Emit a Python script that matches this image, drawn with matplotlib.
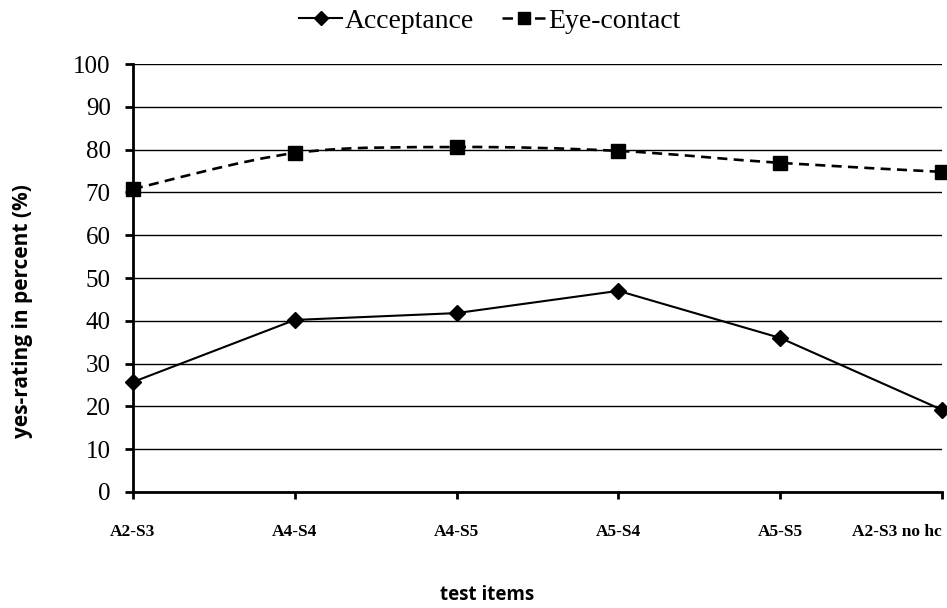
import numpy as np
import matplotlib.pyplot as plt
from matplotlib.path import Path
from matplotlib.patches import PathPatch
from matplotlib.lines import Line2D

items = ['A2-S3', 'A4-S4', 'A4-S5', 'A5-S4', 'A5-S5', 'A2-S3 no hc']
acceptance = [25.7, 40.2, 41.8, 47.0, 36.0, 19.2]
eye_contact = [70.8, 79.2, 80.6, 79.7, 76.9, 74.8]

SERIF = 'Liberation Serif'
SANS = 'Open Sans'


def smooth_path(x, y):
    # excel style smoothed line: cubic bezier through the points
    x = np.asarray(x, float)
    y = np.asarray(y, float)
    px = np.concatenate([[x[0]], x, [x[-1]]])
    py = np.concatenate([[y[0]], y, [y[-1]]])
    verts = [(x[0], y[0])]
    codes = [Path.MOVETO]
    for i in range(1, len(x)):
        c1 = (px[i] + (px[i + 1] - px[i - 1]) / 6, py[i] + (py[i + 1] - py[i - 1]) / 6)
        c2 = (px[i + 1] - (px[i + 2] - px[i]) / 6, py[i + 1] - (py[i + 2] - py[i]) / 6)
        verts += [c1, c2, (x[i], y[i])]
        codes += [Path.CURVE4] * 3
    return Path(verts, codes)


fig = plt.figure(figsize=(9.47, 6.08), dpi=100)
ax = fig.add_axes([0.1404, 0.1908, 0.8543, 0.7039])

xs = np.arange(len(items))

ax.plot(xs, acceptance, color='black', lw=1.5, marker='D', ms=8, zorder=4, clip_on=False)

patch = PathPatch(smooth_path(xs, eye_contact), facecolor='none', edgecolor='black',
                  lw=1.9, linestyle=(0, (3.8, 2.4)), zorder=3, clip_on=False)
ax.add_patch(patch)
ax.plot(xs, eye_contact, linestyle='none', color='black', marker='s', ms=10.5, zorder=4,
        clip_on=False)

ax.set_xlim(0, 5)
ax.set_ylim(0, 100)
ax.set_yticks(range(0, 101, 10))
ax.yaxis.grid(True, color='black', lw=1)
ax.set_axisbelow(True)

for s in ['top', 'right']:
    ax.spines[s].set_visible(False)
for s in ['left', 'bottom']:
    ax.spines[s].set_linewidth(2)

ax.tick_params(axis='y', length=6, width=2, pad=10, labelsize=18)
ax.tick_params(axis='x', length=5, width=2, pad=18)
for lab in ax.get_yticklabels():
    lab.set_fontfamily(SERIF)

ax.set_xticks(xs)
ax.set_xticklabels(items, fontfamily=SERIF, fontweight='bold', fontsize=12.5)
ax.get_xticklabels()[-1].set_horizontalalignment('right')

ax.set_xlabel('test items', fontfamily=SANS, fontweight='bold', fontsize=13.5, va='center')
ax.xaxis.set_label_coords(0.4376, -0.2407)
ax.set_ylabel('yes-rating in percent (%)', fontfamily=SANS, fontweight='bold', fontsize=15,
              va='center')
ax.yaxis.set_label_coords(-0.137, 0.423)

handles = [
    Line2D([], [], color='black', lw=1.5, marker='D', ms=7.5),
    Line2D([], [], color='black', lw=1.8, linestyle=(0, (4.2, 8.8, 4.2, 20)), marker='s', ms=8.5),
]
fig.legend(handles, ['Acceptance', 'Eye-contact'], loc='center', bbox_to_anchor=(0.517, 0.965),
           ncol=2, frameon=False, prop={'family': SERIF, 'size': 20}, handlelength=1.55,
           handletextpad=0.1, columnspacing=1.0)

fig.savefig('out.png', dpi=100)
